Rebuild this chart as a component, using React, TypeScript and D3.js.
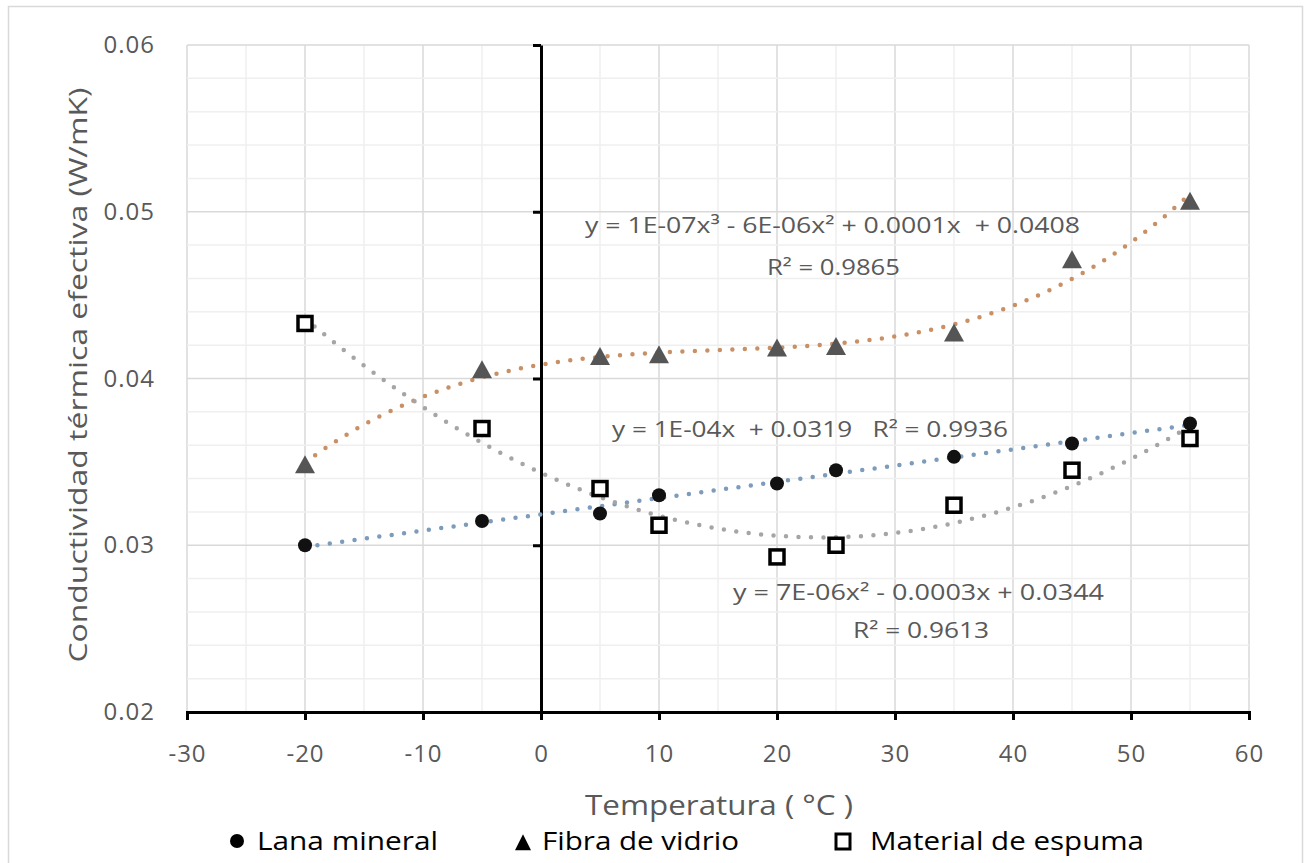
import React, { useRef, useEffect } from 'react';
import * as d3 from 'd3';

// temperatures (°C) of the measurements
const temps = [-20, -5, 5, 10, 20, 25, 35, 45, 55];
const lanaMineral = [0.03, 0.03145, 0.0319, 0.033, 0.0337, 0.0345, 0.0353, 0.0361, 0.0373];
const fibraVidrio = [0.0348, 0.0405, 0.0413, 0.0414, 0.0418, 0.0419, 0.0427, 0.0471, 0.0506];
const espuma = [0.0433, 0.037, 0.0334, 0.0312, 0.0293, 0.03, 0.0324, 0.0345, 0.0364];

const xTicks = [-30, -20, -10, 0, 10, 20, 30, 40, 50, 60];
const yTicks = [0.02, 0.03, 0.04, 0.05, 0.06];

const legendLabels = ['Lana mineral', 'Fibra de vidrio', 'Material de espuma'];
const eqLabels = [
  'y = 1E-07x³ - 6E-06x² + 0.0001x  + 0.0408',
  'R² = 0.9865',
  'y = 1E-04x  + 0.0319   R² = 0.9936',
  'y = 7E-06x² - 0.0003x + 0.0344',
  'R² = 0.9613',
];

// least squares polynomial fit (like Excel's trendline)
function polyFit(xs: number[], ys: number[], deg: number): number[] {
  const n = deg + 1;
  const A: number[][] = [];
  for (let i = 0; i < n; i++) {
    const row: number[] = [];
    for (let j = 0; j < n; j++) row.push(d3.sum(xs, (x) => Math.pow(x, i + j)));
    row.push(d3.sum(xs, (x, k) => Math.pow(x, i) * ys[k]));
    A.push(row);
  }
  for (let c = 0; c < n; c++) {
    let p = c;
    for (let r = c + 1; r < n; r++) if (Math.abs(A[r][c]) > Math.abs(A[p][c])) p = r;
    [A[c], A[p]] = [A[p], A[c]];
    for (let r = 0; r < n; r++) {
      if (r === c) continue;
      const f = A[r][c] / A[c][c];
      for (let k = c; k <= n; k++) A[r][k] -= f * A[c][k];
    }
  }
  return A.map((row, i) => row[n] / row[i]);
}

const W = 1306;
const H = 863;
const FONT = "'Open Sans', 'Noto Sans', sans-serif";
const GREY = '#595959';

function App() {
  const svgRef = useRef<SVGSVGElement>(null);

  useEffect(() => {
    const svg = d3.select(svgRef.current);
    svg.selectAll('*').remove();

    const x = d3.scaleLinear().domain([-30, 60]).range([187, 1249]);
    const y = d3.scaleLinear().domain([0.02, 0.06]).range([712, 45]);

    // stretched text helper (the source image is a bit wider than the font)
    const label = (g: any, s: string, tx: number, ty: number, size: number, len: number, fill = GREY) =>
      g.append('text').attr('x', tx).attr('y', ty).attr('font-size', size).attr('font-family', FONT)
        .attr('fill', fill).attr('textLength', len).attr('lengthAdjust', 'spacingAndGlyphs')
        .style('white-space', 'pre').text(s);

    // chart border
    svg.append('rect').attr('x', 8.5).attr('y', 6.5).attr('width', 1294).attr('height', 870)
      .attr('fill', '#fff').attr('stroke', '#d9d9d9').attr('stroke-width', 1.5);

    // grid
    const grid = svg.append('g');
    d3.range(-30, 61, 5).forEach((v) => {
      grid.append('line').attr('x1', x(v)).attr('x2', x(v)).attr('y1', y(0.06)).attr('y2', y(0.02))
        .attr('stroke', v % 10 === 0 ? '#d9d9d9' : '#efefef').attr('stroke-width', 1.5);
    });
    d3.range(0, 21).map((i) => 0.02 + i * 0.002).forEach((v, i) => {
      grid.append('line').attr('x1', x(-30)).attr('x2', x(60)).attr('y1', y(v)).attr('y2', y(v))
        .attr('stroke', i % 5 === 0 ? '#d9d9d9' : '#efefef').attr('stroke-width', 1.5);
    });

    // axes
    const xAxis = svg.append('g').attr('transform', `translate(0,${y(0.02)})`)
      .call(d3.axisBottom(x).tickValues(xTicks).tickSize(8).tickFormat((d) => String(d)));
    xAxis.select('.domain').attr('stroke', '#000').attr('stroke-width', 3);
    xAxis.selectAll('line').attr('stroke', '#000').attr('stroke-width', 3);
    xAxis.selectAll('text').attr('fill', GREY).attr('font-size', 24).attr('font-family', FONT)
      .attr('letter-spacing', 1).attr('y', 50).attr('dy', 0);

    const yAxis = svg.append('g').attr('transform', `translate(${x(0)},0)`)
      .call(d3.axisLeft(y).tickValues(yTicks).tickSize(8).tickSizeOuter(0).tickFormat(d3.format('.2f')));
    yAxis.select('.domain').attr('stroke', '#000').attr('stroke-width', 3);
    yAxis.selectAll('line').attr('stroke', '#000').attr('stroke-width', 3);
    yAxis.selectAll('text').attr('x', 155 - x(0)).attr('fill', GREY).attr('font-size', 24)
      .attr('font-family', FONT).attr('letter-spacing', 1);

    // trendlines
    const trends = [
      { ys: lanaMineral, deg: 1, color: '#7d9bbb' },
      { ys: fibraVidrio, deg: 3, color: '#c99066' },
      { ys: espuma, deg: 2, color: '#a5a5a5' },
    ];
    trends.forEach((t) => {
      const c = polyFit(temps, t.ys, t.deg);
      const pts = d3.range(-20, 55.01, 0.5).map((v) => [v, c.reduce((s, ci, i) => s + ci * Math.pow(v, i), 0)]);
      svg.append('path')
        .attr('d', d3.line().x((d) => x(d[0])).y((d) => y(d[1]))(pts as [number, number][]))
        .attr('fill', 'none').attr('stroke', t.color).attr('stroke-width', 4.5)
        .attr('stroke-linecap', 'round').attr('stroke-dasharray', '0 12.5');
    });

    // markers
    const tri = (hw: number, h: number) => `M0,${-h * 0.55}L${hw},${h * 0.45}L${-hw},${h * 0.45}Z`;
    temps.forEach((t, i) => {
      svg.append('circle').attr('cx', x(t)).attr('cy', y(lanaMineral[i])).attr('r', 7).attr('fill', '#111');
      svg.append('path').attr('transform', `translate(${x(t)},${y(fibraVidrio[i])})`).attr('d', tri(10, 18)).attr('fill', '#555');
      svg.append('rect').attr('x', x(t) - 7).attr('y', y(espuma[i]) - 7).attr('width', 14).attr('height', 14)
        .attr('fill', '#fff').attr('stroke', '#000').attr('stroke-width', 3.5);
    });

    // equation labels
    const eq = svg.append('g');
    const eqPos = [[585, 233, 495], [767, 275, 133], [612, 437, 396], [733, 600, 371], [853, 638, 136]];
    eqLabels.forEach((s, i) => label(eq, s, eqPos[i][0], eqPos[i][1], 22, eqPos[i][2]));

    // axis titles
    svg.append('text').attr('transform', `translate(87,${375}) rotate(-90)`).attr('text-anchor', 'middle')
      .attr('fill', GREY).attr('font-family', FONT).attr('font-size', 25)
      .attr('textLength', 575).attr('lengthAdjust', 'spacingAndGlyphs')
      .text('Conductividad térmica efectiva (W/mK)');
    label(svg, 'Temperatura ( °C )', 585, 815, 27, 268);

    // legend
    const leg = svg.append('g');
    const legX = [237, 523, 843];
    leg.append('circle').attr('cx', legX[0]).attr('cy', 841).attr('r', 7).attr('fill', '#000');
    leg.append('path').attr('transform', `translate(${legX[1]},843)`).attr('d', tri(8, 16)).attr('fill', '#000');
    leg.append('rect').attr('x', legX[2] - 7).attr('y', 834).attr('width', 14).attr('height', 15)
      .attr('fill', '#fff').attr('stroke', '#000').attr('stroke-width', 3);
    const legText = [[257, 181], [542, 197], [870, 274]];
    legendLabels.forEach((s, i) => label(leg, s, legText[i][0], 850, 25, legText[i][1], '#000'));
  }, []);

  return (
    <svg ref={svgRef} width={W} height={H} style={{ position: 'absolute', left: 0, top: 0, background: '#fff' }} />
  );
}

export default App;
